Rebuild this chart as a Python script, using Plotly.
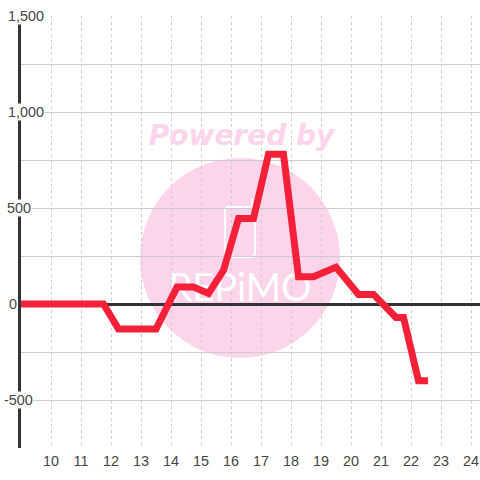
import plotly.graph_objects as go

hours = [8.87, 11.75, 12.25, 13.5, 14.2, 14.75, 15.25, 15.75, 16.25, 16.75, 17.25, 17.75, 18.25, 18.75, 19.5, 20.25, 20.75, 21.5, 21.75, 22.25, 22.57]
values = [0, 0, -130, -130, 88, 88, 55, 175, 445, 445, 780, 780, 142, 142, 192, 50, 50, -70, -70, -400, -400]
x_ticks = list(range(10, 25))
y_major = [-500, 0, 500, 1000, 1500]
y_labels = ["-500", "0", "500", "1,000", "1,500"]
y_label_left = [3, 8, 6, 7, 7]
y_minor = [-750, -250, 250, 750, 1250]
FONT = "Liberation Sans"
PINK = "#fcd5ec"
W, H = 480, 480
L, R, T, B = 21, 0, 16, 32
def px(v): return (v - L) / (W - L - R)
def py(v): return (H - B - v) / (H - T - B)

logo = "M {} {} L {} {} Q {} {} {} {} L {} {} Q {} {} {} {} L {} {} Q {} {} {} {} L {} {} Q {} {} {} {} Z".format(
    px(228), py(207), px(251), py(207), px(255), py(207), px(255), py(211),
    px(255), py(253), px(255), py(257), px(251), py(257), px(229), py(257),
    px(225), py(257), px(225), py(253), px(225), py(211), px(225), py(207), px(228), py(207))

shapes = [
    dict(type="circle", xref="paper", yref="paper", layer="below", x0=px(140), x1=px(340), y0=py(358), y1=py(158), fillcolor=PINK, line_width=0),
    dict(type="path", xref="paper", yref="paper", layer="below", path=logo, fillcolor="rgba(0,0,0,0)", line=dict(color="white", width=2)),
    dict(type="line", xref="paper", yref="paper", layer="below", x0=px(252), x1=px(252), y0=py(199), y1=py(207), line=dict(color="white", width=2)),
]

fig = go.Figure()
fig.add_trace(go.Scatter(x=[16.35], y=[865], mode="text", text=["Powered by"], textposition="middle center", cliponaxis=False,
    textfont=dict(family="DejaVu Sans", size=28, color=PINK, weight="bold", style="italic"), hoverinfo="skip", showlegend=False))
fig.add_trace(go.Scatter(x=[16.3], y=[65], mode="text", text=["REPiMO"], textposition="middle center", cliponaxis=False,
    textfont=dict(family="Lato", size=38, color="white", weight=400), hoverinfo="skip", showlegend=False))
fig.add_trace(go.Scatter(x=hours, y=values, mode="lines", cliponaxis=False, line=dict(color="#f32037", width=7), hoverinfo="skip", showlegend=False))

annotations = [dict(xref="paper", yref="y", x=px(left), y=v, text=t, showarrow=False, xanchor="left", yanchor="middle",
                    bgcolor="white", font=dict(family=FONT, size=14.4, color="#444444"), borderpad=0)
               for v, t, left in zip(y_major, y_labels, y_label_left)]

fig.update_layout(
    width=W, height=H, margin=dict(l=L, r=R, t=T, b=B, autoexpand=False), paper_bgcolor="white", plot_bgcolor="white",
    shapes=shapes, annotations=annotations, showlegend=False,
    xaxis=dict(range=[9, 24.3], tickmode="array", tickvals=x_ticks, ticktext=[str(t) for t in x_ticks], showgrid=True,
               gridcolor="#cccccc", griddash="3px,3px", gridwidth=1, zeroline=False, showline=False, ticks="",
               ticklabelstandoff=3, tickfont=dict(family=FONT, size=14.4, color="#444444")),
    yaxis=dict(range=[-750, 1500], tickmode="array", tickvals=sorted(y_major + y_minor), ticktext=[""] * 10, showgrid=True, gridcolor="#cccccc",
               gridwidth=1, zeroline=True, zerolinecolor="#333333", zerolinewidth=3, showline=True, linecolor="#333333", linewidth=3, ticks=""),
)
fig.write_html("out.html", config={"displayModeBar": False}, post_script="document.body.style.margin='0';")
